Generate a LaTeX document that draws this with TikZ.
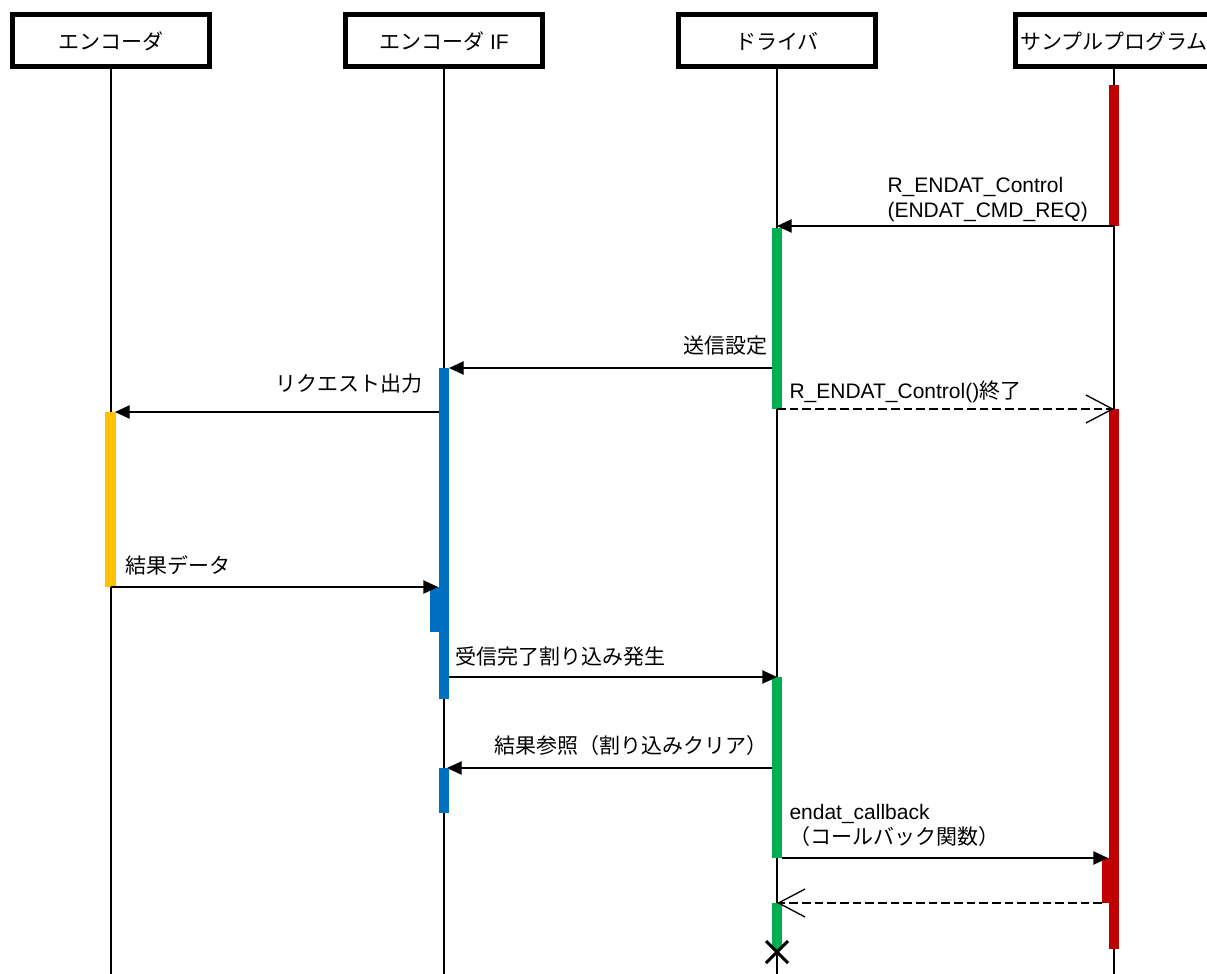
\documentclass[tikz,border=0pt]{standalone}
\usepackage{fontspec}
\setmainfont{Liberation Sans}
\newfontfamily\jp{Noto Sans CJK JP}
\usetikzlibrary{arrows.meta}

\newcommand{\msgfont}{\fontsize{15.75}{18.75}\selectfont}
\definecolor{barred}{RGB}{192,0,0}
\definecolor{bargreen}{RGB}{0,176,80}
\definecolor{barblue}{RGB}{0,112,192}
\definecolor{baryellow}{RGB}{255,192,0}

\tikzset{every picture/.style={line width=0.75pt}}
\tikzset{
  head/.style={draw, line width=3.75pt, fill=white, minimum width=147.75pt, minimum height=39pt, inner sep=0pt, font=\msgfont},
  life/.style={line width=1pt},
  call/.style={line width=1pt, -{Triangle[length=11pt,width=10pt]}},
  ret/.style={line width=1pt, dash pattern=on 6.5pt off 3pt, -{Straight Barb[length=20pt,width=21pt]}},
  lbl/.style={inner sep=0pt, font=\msgfont},
}

\begin{document}
\begin{tikzpicture}[x=0.75pt,y=0.75pt,yscale=-1,xscale=1]
\useasboundingbox (0,0) rectangle (1207,974);

%Lifeline heads
\node[head] (enc) at (111,41) {{\jp エンコーダ}};
\node[head] (enif) at (444,41) {{\jp エンコーダ} IF};
\node[head] (drv) at (777,41) {{\jp ドライバ}};
\node[head] (smp) at (1114,41) {{\jp サンプルプログラム}};

%Lifelines
\coordinate (bot) at (0,974);
\foreach \p in {enc,enif,drv,smp}
  \draw[life] (\p.south) -- (\p |- bot);

%Shape: Rectangle (activations)
\fill[barred] (1109,85) rectangle (1119,226);
\fill[barred] (1109,409) rectangle (1119,949);
\fill[barred] (1102,858) rectangle (1109,903);
\fill[bargreen] (772,228) rectangle (782,409);
\fill[bargreen] (772,677) rectangle (782,858);
\fill[bargreen] (772,903) rectangle (782,950);
\fill[barblue] (439,368) rectangle (449,699);
\fill[barblue] (430,587) rectangle (439,632);
\fill[barblue] (439,768) rectangle (449,813);
\fill[baryellow] (105,412) rectangle (116,587);

%Message rows
\coordinate (r1) at (0,226);
\coordinate (r2) at (0,368);
\coordinate (r3) at (0,409);
\coordinate (r4) at (0,412);
\coordinate (r5) at (0,587);
\coordinate (r6) at (0,677);
\coordinate (r7) at (0,768);
\coordinate (r8) at (0,858);
\coordinate (r9) at (0,903);

%Straight Lines
\draw[call] (smp |- r1) -- (drv |- r1);
\draw[call, shorten <=3.75pt, shorten >=3.75pt] (drv |- r2) -- (enif |- r2);
\draw[ret] (drv |- r3) -- (smp |- r3);
\draw[call, shorten <=3.75pt, shorten >=3pt] (enif |- r4) -- (enc |- r4);
\draw[call, shorten >=4.5pt] (enc |- r5) -- (enif |- r5);
\draw[call, shorten <=3.75pt] (enif |- r6) -- (drv |- r6);
\draw[call, shorten <=3.75pt, shorten >=2.25pt] (drv |- r7) -- (enif |- r7);
\draw[call, shorten <=3.75pt, shorten >=4.5pt] (drv |- r8) -- (smp |- r8);
\draw[ret, shorten <=9pt] (smp |- r9) -- (drv |- r9);

%Destruction
\coordinate (dx) at (777,952);
\draw[line width=2.25pt] ([shift={(-11,-11)}]dx) -- ([shift={(11,11)}]dx)
  ([shift={(-11,11)}]dx) -- ([shift={(11,-11)}]dx);

% Text Node
\node[lbl, anchor=base west, align=left] (t1) at (887,217) {R\_ENDAT\_Control\\(ENDAT\_CMD\_REQ)};
% Text Node
\node[lbl, anchor=base east] (t2) at (768,353) {\jp 送信設定};
% Text Node
\node[lbl, anchor=base west] (t3) at (789,398) {R\_ENDAT\_Control(){\jp 終了}};
% Text Node
\node[lbl, anchor=base east] (t4) at (423,391) {\jp リクエスト出力};
% Text Node
\node[lbl, anchor=base west] (t5) at (125,573) {\jp 結果データ};
% Text Node
\node[lbl, anchor=base west] (t6) at (455,664) {\jp 受信完了割り込み発生};
% Text Node
\node[lbl, anchor=base east] (t7) at (768,753) {\jp 結果参照（割り込みクリア）};
% Text Node
\node[lbl, anchor=base west, align=left] (t8) at (789,844) {endat\_callback\\{\jp （コールバック関数）}};

\end{tikzpicture}
\end{document}
